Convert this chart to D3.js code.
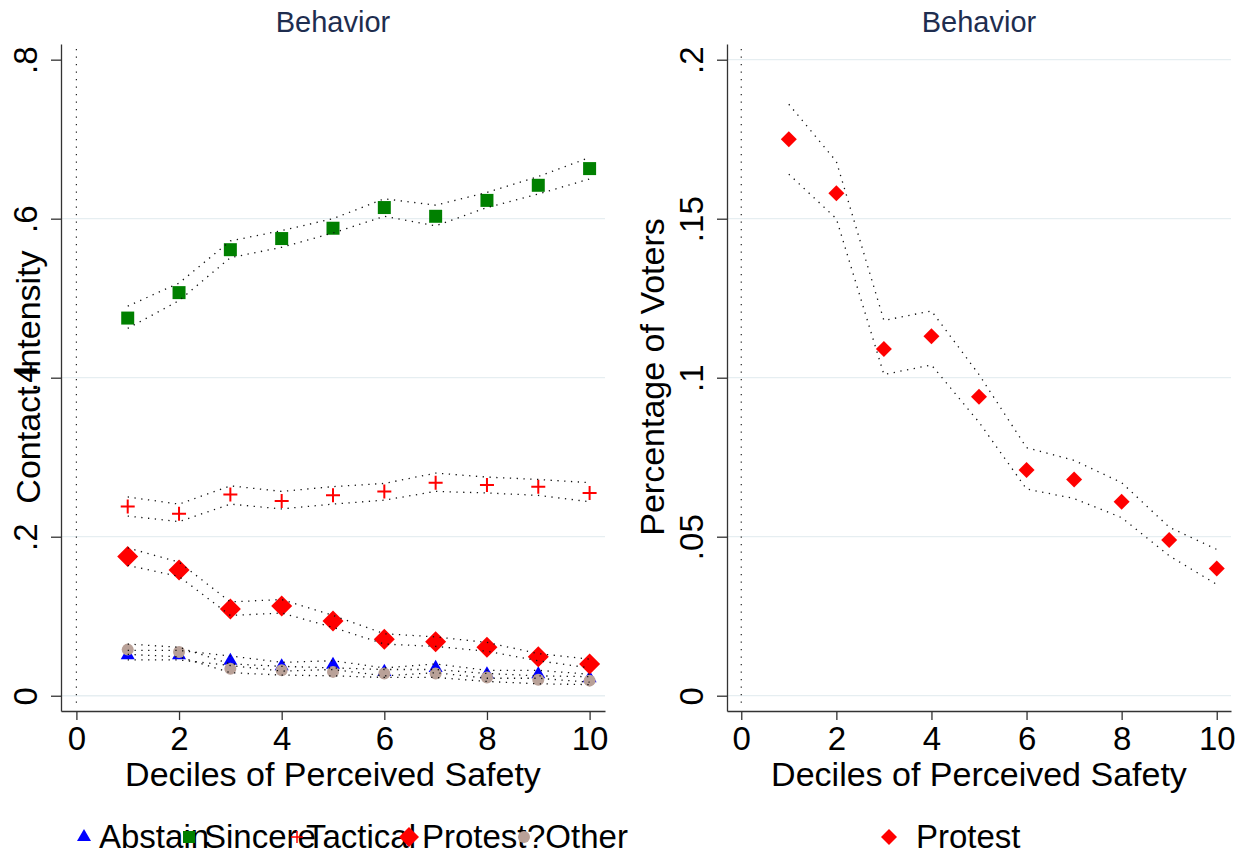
<!DOCTYPE html>
<html><head><meta charset="utf-8">
<script src="https://cdn.jsdelivr.net/npm/d3@7"></script>
<style>
body{margin:0;background:#fff}
svg{display:block}
text{font-family:"Liberation Sans", Arial, Helvetica, sans-serif}
</style>
</head><body>
<svg id="c" width="1246" height="859"></svg>
<script>
// ---------------- data ----------------
const deciles = [1, 2, 3, 4, 5, 6, 7, 8, 9, 10];

const abstain   = [0.051, 0.051, 0.044, 0.037, 0.039, 0.030, 0.035, 0.027, 0.027, 0.022];
const abstainLo = [0.045, 0.045, 0.038, 0.031, 0.033, 0.025, 0.029, 0.022, 0.022, 0.017];
const abstainHi = [0.057, 0.057, 0.050, 0.042, 0.044, 0.035, 0.040, 0.032, 0.032, 0.027];

const sincere   = [0.475, 0.507, 0.561, 0.575, 0.588, 0.614, 0.603, 0.623, 0.642, 0.663];
const sincereLo = [0.462, 0.497, 0.551, 0.564, 0.582, 0.603, 0.591, 0.614, 0.631, 0.650];
const sincereHi = [0.490, 0.519, 0.572, 0.585, 0.600, 0.625, 0.617, 0.633, 0.653, 0.677];

const tactical   = [0.238, 0.229, 0.253, 0.245, 0.252, 0.257, 0.268, 0.265, 0.263, 0.255];
const tacticalLo = [0.226, 0.219, 0.241, 0.235, 0.241, 0.246, 0.257, 0.255, 0.252, 0.244];
const tacticalHi = [0.250, 0.241, 0.264, 0.257, 0.263, 0.267, 0.280, 0.275, 0.272, 0.268];

const protest   = [0.175, 0.158, 0.109, 0.113, 0.094, 0.071, 0.068, 0.061, 0.049, 0.040];
const protestLo = [0.164, 0.150, 0.101, 0.104, 0.086, 0.065, 0.062, 0.056, 0.044, 0.035];
const protestHi = [0.186, 0.168, 0.118, 0.121, 0.101, 0.078, 0.074, 0.067, 0.053, 0.046];

const other   = [0.058, 0.055, 0.034, 0.032, 0.030, 0.028, 0.028, 0.023, 0.020, 0.019];
const otherLo = [0.052, 0.049, 0.029, 0.026, 0.025, 0.023, 0.023, 0.018, 0.015, 0.014];
const otherHi = [0.065, 0.061, 0.040, 0.037, 0.035, 0.033, 0.033, 0.028, 0.025, 0.024];

const xTicks = [0, 2, 4, 6, 8, 10];
const leftYTicks = [0, 0.2, 0.4, 0.6, 0.8];
const leftYTickLabels = ["0", ".2", ".4", ".6", ".8"];
const rightYTicks = [0, 0.05, 0.1, 0.15, 0.2];
const rightYTickLabels = ["0", ".05", ".1", ".15", ".2"];

const leftLegendLabels = ["Abstain", "Sincere", "Tactical", "Protest", "?Other"];
const rightLegendLabels = ["Protest"];

const panelTitle = "Behavior";
const xTitle = "Deciles of Perceived Safety";

// ---------------- styles ----------------
const C = {abstain:"#0000ff", sincere:"#008000", tactical:"#ff0000", protest:"#ff0000", other:"#b9a198"};
const svg = d3.select("#c");
const axisColor = "#333";
const gridColor = "#e6eef1";

function symbolPath(kind, s) {
  if (kind === "triangle") return d3.symbol(d3.symbolTriangle, Math.sqrt(3) / 4 * s * s)();
  if (kind === "square") return d3.symbol(d3.symbolSquare, s * s)();
  if (kind === "diamond") { const h = s / 2; return `M0,${-h}L${h},0L0,${h}L${-h},0Z`; }
  if (kind === "circle") return d3.symbol(d3.symbolCircle, Math.PI * s * s / 4)();
  if (kind === "plus") { const h = s / 2; return `M${-h},0H${h}M0,${-h}V${h}`; }
}
function drawSymbol(g, kind, s, color, x, y, sw) {
  const p = g.append("path").attr("d", symbolPath(kind, s)).attr("transform", `translate(${x},${y})`);
  if (kind === "plus") p.attr("fill", "none").attr("stroke", color).attr("stroke-width", sw || 2);
  else p.attr("fill", color);
}

function panel(cfg) {
  const g = svg.append("g");
  const x = d3.scaleLinear().domain([-0.3, 10.3]).range([cfg.left, cfg.right]);
  const y = d3.scaleLinear().domain(cfg.yDomain).range([711, 44]);

  // gridlines
  g.append("g").selectAll("line").data(cfg.grid).join("line")
    .attr("x1", cfg.left).attr("x2", cfg.right)
    .attr("y1", d => y(d)).attr("y2", d => y(d))
    .attr("stroke", gridColor).attr("stroke-width", 1.3);

  // vertical dotted line at x=0
  g.append("line").attr("x1", x(0)).attr("x2", x(0)).attr("y1", 49).attr("y2", 704)
    .attr("stroke", "#222").attr("stroke-width", 1.2).attr("stroke-dasharray", "1.2 6.3");

  // y axis
  const ya = g.append("g").attr("transform", `translate(${cfg.left},0)`)
    .call(d3.axisLeft(y).tickValues(cfg.yTicks).tickFormat((d, i) => cfg.yLabels[i]).tickSize(10).tickSizeOuter(0));
  ya.selectAll("path,line").attr("stroke", axisColor).attr("stroke-width", 1.3);
  ya.selectAll("text").attr("x", 0).attr("dy", 0).attr("fill", "#000")
    .attr("font-size", 33).attr("text-anchor", "middle")
    .attr("transform", "translate(-24,0) rotate(-90)");

  // x axis
  const xa = g.append("g").attr("transform", "translate(0,711)")
    .call(d3.axisBottom(x).tickValues(xTicks).tickFormat(d3.format("d")).tickSize(9).tickSizeOuter(0));
  xa.selectAll("path,line").attr("stroke", axisColor).attr("stroke-width", 1.3);
  xa.selectAll("text").attr("y", 39).attr("dy", 0).attr("fill", "#000").attr("font-size", 33);

  // titles
  g.append("text").attr("x", (cfg.left + cfg.right) / 2).attr("y", 32).attr("text-anchor", "middle")
    .attr("font-size", 29).attr("fill", "#1e2d4f").text(panelTitle);
  g.append("text").attr("x", (cfg.left + cfg.right) / 2).attr("y", 786).attr("text-anchor", "middle")
    .attr("font-size", 34).attr("fill", "#000").text(xTitle);
  g.append("text").attr("transform", `translate(${cfg.yTitleX},377) rotate(-90)`).attr("text-anchor", "middle")
    .attr("font-size", 34).attr("fill", "#000").text(cfg.yTitle);

  // markers
  cfg.series.forEach(s => {
    const mg = g.append("g");
    deciles.forEach((d, i) => drawSymbol(mg, s.kind, s.size, s.color, x(d), y(s.vals[i]), s.sw));
  });
  // CI dotted lines
  const line = d3.line().x((d, i) => x(deciles[i])).y(d => y(d));
  cfg.series.forEach(s => {
    [s.lo, s.hi].forEach(arr => {
      g.append("path").attr("d", line(arr)).attr("fill", "none")
        .attr("stroke", "#111").attr("stroke-width", 1.3).attr("stroke-dasharray", "1.3 5.5");
    });
  });

  // legend
  const lg = g.append("g");
  cfg.legend.forEach((k, i) => {
    drawSymbol(lg, k.kind, k.size, k.color, k.sx, 837, 1.5);
    lg.append("text").attr("x", k.tx).attr("y", 848).attr("font-size", 33)
      .attr("fill", "#000").text(cfg.legendLabels[i]);
  });
}

panel({
  left: 61, right: 605,
  yDomain: [-0.0192, 0.8197],
  yTicks: leftYTicks, yLabels: leftYTickLabels, grid: [0, 0.2, 0.4, 0.6],
  yTitle: "Contact Intensity", yTitleX: 40,
  series: [
    {vals: abstain, lo: abstainLo, hi: abstainHi, kind: "triangle", size: 14, color: C.abstain},
    {vals: sincere, lo: sincereLo, hi: sincereHi, kind: "square", size: 13, color: C.sincere},
    {vals: tactical, lo: tacticalLo, hi: tacticalHi, kind: "plus", size: 14, color: C.tactical, sw: 2},
    {vals: protest, lo: protestLo, hi: protestHi, kind: "diamond", size: 21, color: C.protest},
    {vals: other, lo: otherLo, hi: otherHi, kind: "circle", size: 12, color: C.other}
  ],
  legendLabels: leftLegendLabels,
  legend: [
    {kind: "triangle", size: 14, color: C.abstain, sx: 84, tx: 99},
    {kind: "square", size: 12, color: C.sincere, sx: 189, tx: 204},
    {kind: "plus", size: 12, color: C.tactical, sx: 297, tx: 306},
    {kind: "diamond", size: 20, color: C.protest, sx: 409, tx: 422},
    {kind: "circle", size: 12, color: C.other, sx: 524, tx: 527}
  ]
});

panel({
  left: 727, right: 1231,
  yDomain: [-0.00481, 0.20494],
  yTicks: rightYTicks, yLabels: rightYTickLabels, grid: [0, 0.05, 0.1, 0.15, 0.2],
  yTitle: "Percentage of Voters", yTitleX: 664,
  series: [
    {vals: protest, lo: protestLo, hi: protestHi, kind: "diamond", size: 16, color: C.protest}
  ],
  legendLabels: rightLegendLabels,
  legend: [
    {kind: "diamond", size: 16, color: C.protest, sx: 889, tx: 916}
  ]
});
</script>
</body></html>
